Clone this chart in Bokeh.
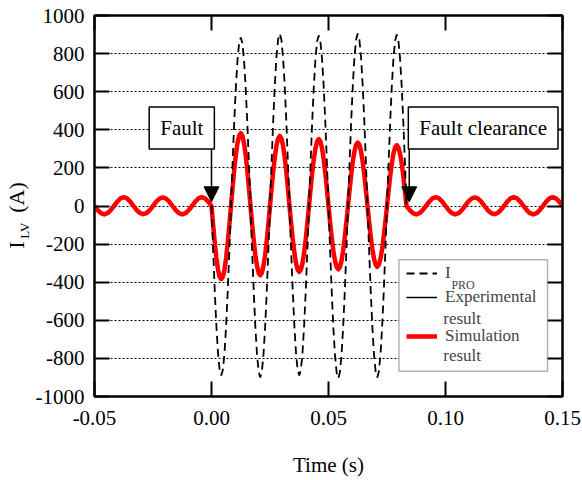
import numpy as np
from bokeh.plotting import figure
from bokeh.models import (Range1d, LinearAxis, FixedTicker, Label, Arrow, NormalHead,
                          BoxAnnotation, Legend, LegendItem)
from bokeh.embed import file_html
from bokeh.resources import INLINE

# ---------------- data ----------------
# sampling grids: pre-fault / post-fault every 1/720 s, fault period every 1/1440 s
t_pre = np.linspace(-0.05, 0.0, 37)
t_fault = np.linspace(0.0, 1.0 / 12.0, 121)
t_post = np.linspace(1.0 / 12.0, 0.15, 49)

# Simulation result (A)
sim_pre = [0, -22, -38, -44, -38, -22, 0, 23, 40, 46, 40, 23,
           0, -22, -37, -43, -37, -22, 0, 23, 39, 45, 39, 23,
           0, -22, -38, -44, -38, -22, 0, 23, 40, 46, 40, 23, 0]
sim_fault = [0, -99, -192, -272, -333, -371, -384, -371, -333, -272, -192, -99,
             0, 99, 191, 270, 331, 369, 382, 369, 331, 270, 191, 99,
             0, -94, -182, -257, -314, -351, -363, -351, -314, -257, -182, -94,
             0, 95, 184, 260, 319, 355, 368, 355, 319, 260, 184, 95,
             0, -90, -173, -245, -300, -334, -346, -334, -300, -245, -173, -90,
             0, 91, 176, 248, 304, 339, 351, 339, 304, 248, 176, 91,
             0, -86, -166, -235, -288, -321, -332, -321, -288, -235, -166, -86,
             0, 86, 167, 235, 288, 322, 333, 322, 288, 235, 167, 86,
             0, -83, -160, -226, -276, -308, -319, -308, -276, -226, -160, -83,
             0, 83, 160, 226, 276, 308, 319, 308, 276, 226, 160, 83,
             0]
sim_post = [0, -22, -38, -44, -38, -22, 0, 23, 40, 46, 40, 23,
            0, -22, -38, -44, -38, -22, 0, 23, 39, 45, 39, 23,
            0, -22, -37, -43, -37, -22, 0, 23, 40, 46, 40, 23,
            0, -22, -38, -44, -38, -22, 0, 23, 40, 46, 40, 23, 0]

# Experimental result (A)
exp_pre = [0, -21, -37, -43, -37, -21, 0, 22, 39, 45, 39, 22,
           0, -21, -37, -42, -37, -21, 0, 22, 38, 44, 38, 22,
           0, -21, -37, -43, -37, -21, 0, 22, 39, 45, 39, 22, 0]
exp_fault = [0, -98, -190, -269, -329, -367, -380, -367, -329, -269, -190, -98,
             0, 98, 189, 267, 327, 365, 378, 365, 327, 267, 189, 98,
             0, -93, -180, -255, -312, -348, -360, -348, -312, -255, -180, -93,
             0, 94, 182, 257, 315, 352, 364, 352, 315, 257, 182, 94,
             0, -89, -172, -243, -297, -331, -343, -331, -297, -243, -172, -89,
             0, 90, 174, 246, 301, 336, 348, 336, 301, 246, 174, 90,
             0, -85, -165, -233, -286, -319, -330, -319, -286, -233, -165, -85,
             0, 85, 165, 233, 286, 319, 330, 319, 286, 233, 165, 85,
             0, -82, -159, -224, -275, -306, -317, -306, -275, -224, -159, -82,
             0, 82, 159, 224, 275, 306, 317, 306, 275, 224, 159, 82,
             0]
exp_post = [0, -21, -37, -43, -37, -21, 0, 22, 39, 45, 39, 22,
            0, -21, -37, -43, -37, -21, 0, 22, 38, 44, 38, 22,
            0, -21, -37, -42, -37, -21, 0, 22, 39, 45, 39, 22,
            0, -21, -37, -43, -37, -21, 0, 22, 39, 45, 39, 22, 0]

# I_PRO during the fault (A)
pro_fault = [0, -230, -445, -629, -771, -860, -890, -860, -771, -629, -445, -230,
             0, 229, 443, 626, 766, 855, 885, 855, 766, 626, 443, 229,
             0, -233, -450, -636, -779, -869, -900, -869, -779, -636, -450, -233,
             0, 234, 453, 640, 784, 874, 905, 874, 784, 640, 453, 234,
             0, -230, -445, -629, -771, -860, -890, -860, -771, -629, -445, -230,
             0, 232, 448, 633, 775, 865, 895, 865, 775, 633, 448, 232,
             0, -234, -453, -640, -784, -874, -905, -874, -784, -640, -453, -234,
             0, 234, 453, 640, 784, 874, 905, 874, 784, 640, 453, 234,
             0, -233, -450, -636, -779, -869, -900, -869, -779, -636, -450, -233,
             0, 233, 450, 636, 779, 869, 900, 869, 779, 636, 450, 233,
             0]

fault_time = 0.0
clearance_time = 0.0845

x_ticks = [-0.05, 0.0, 0.05, 0.10, 0.15]
x_tick_labels = ["-0.05", "0.00", "0.05", "0.10", "0.15"]
y_ticks = [-1000, -800, -600, -400, -200, 0, 200, 400, 600, 800, 1000]
y_tick_labels = ["-1000", "-800", "-600", "-400", "-200", "0", "200", "400", "600", "800", "1000"]

x_title = "Time (s)"
# y title "I_LV (A)": main letter, subscript, unit (placed along the y axis)
y_title_main, y_title_sub, y_title_unit = "I", "LV", "(A)"
y_title_main_pos, y_title_sub_pos, y_title_unit_pos = -205.0, -130.0, 45.0

FONT = "Liberation Serif"

# ---------------- figure ----------------
p = figure(frame_width=468, frame_height=381,
           min_border_left=94, min_border_right=20, min_border_top=15, min_border_bottom=84,
           x_range=Range1d(-0.05, 0.15), y_range=Range1d(-1000, 1000),
           output_backend="svg", toolbar_location=None,
           background_fill_color="white", border_fill_color="white")
p.outline_line_color = "black"
p.outline_line_width = 2

def style_axis(ax, ticks, labels=None):
    ax.ticker = FixedTicker(ticks=ticks)
    ax.axis_line_color = "black"
    ax.axis_line_width = 2
    ax.major_tick_line_color = "black"
    ax.major_tick_line_width = 2
    ax.major_tick_in = 15
    ax.major_tick_out = 0
    ax.minor_tick_line_color = None
    if labels is not None:
        ax.major_label_overrides = {t: s for t, s in zip(ticks, labels)}
        ax.major_label_text_font = FONT
        ax.major_label_text_font_size = "21px"
        ax.major_label_text_color = "black"
    else:
        # tick marks only: labels are not drawn
        ax.major_label_text_font_size = "1px"
        ax.major_label_text_color = None
        ax.major_label_standoff = 0

style_axis(p.xaxis[0], x_ticks, x_tick_labels)
p.xaxis[0].major_label_standoff = 14
p.xaxis[0].axis_label = x_title
p.xaxis[0].axis_label_text_font = FONT
p.xaxis[0].axis_label_text_font_size = "21px"
p.xaxis[0].axis_label_text_font_style = "normal"
p.xaxis[0].axis_label_text_color = "black"
p.xaxis[0].axis_label_standoff = 25

style_axis(p.yaxis[0], y_ticks, y_tick_labels)
p.yaxis[0].major_label_standoff = 10

top_axis = LinearAxis()
style_axis(top_axis, x_ticks)
p.add_layout(top_axis, "above")
right_axis = LinearAxis()
style_axis(right_axis, y_ticks)
p.add_layout(right_axis, "right")

def title_axis(texts, positions, size, standoff):
    ax = LinearAxis(ticker=FixedTicker(ticks=positions),
                    major_label_overrides={v: t for v, t in zip(positions, texts)},
                    axis_line_color=None, major_tick_line_color=None, minor_tick_line_color=None,
                    major_tick_in=0, major_tick_out=0,
                    major_label_orientation="vertical", major_label_standoff=standoff,
                    major_label_text_font=FONT, major_label_text_font_size=size,
                    major_label_text_color="black")
    p.add_layout(ax, "left")
    return ax

title_axis([y_title_sub], [y_title_sub_pos], "13px", 0)
title_axis([y_title_main, y_title_unit], [y_title_main_pos, y_title_unit_pos], "22px", -15)

p.xgrid.visible = False
p.ygrid.ticker = FixedTicker(ticks=y_ticks)
p.ygrid.grid_line_color = "black"
p.ygrid.grid_line_width = 1
p.ygrid.grid_line_dash = "2 2"

# ---------------- lines ----------------
t_all = np.concatenate([t_pre[:-1], t_fault[:-1], t_post])
sim_all = sim_pre[:-1] + sim_fault[:-1] + sim_post
exp_all = exp_pre[:-1] + exp_fault[:-1] + exp_post

r_exp = p.line(t_all, exp_all, line_color="black", line_width=1.5)
r_sim = p.line(t_all, sim_all, line_color="#ff0000", line_width=4.5, line_join="round")
r_pro = p.line(t_fault, pro_fault, line_color="black", line_width=1.8, line_dash="8 5")

# ---------------- annotations ----------------
for xt in (fault_time, clearance_time):
    p.add_layout(Arrow(end=NormalHead(size=15, fill_color="black", line_color="black", line_width=1),
                       x_start=xt, y_start=310, x_end=xt, y_end=22,
                       line_color="black", line_width=1.5))

for lx, txt in ((-0.0127, "Fault"), (0.1161, "Fault clearance")):
    p.add_layout(Label(x=lx, y=410, text=txt, text_align="center", text_baseline="middle",
                       text_font=FONT, text_font_size="21px", text_color="black",
                       background_fill_color="white", border_line_color="black", border_line_width=1.5,
                       padding=(11, 9)))

# legend frame
p.add_layout(BoxAnnotation(left=0.0801, right=0.1436, top=-282, bottom=-867,
                           fill_color="white", fill_alpha=1.0, line_color="black", line_width=1.5))

leg1 = Legend(items=[LegendItem(label="I", renderers=[r_pro]),
                     LegendItem(label="Experimental", renderers=[r_exp])],
              location=(312, 87), padding=0, margin=0, spacing=0,
              label_height=24, glyph_height=24, glyph_width=31, label_standoff=8,
              label_text_font=FONT, label_text_font_size="17px",
              border_line_alpha=0, background_fill_alpha=0)
leg2 = Legend(items=[LegendItem(label="Simulation", renderers=[r_sim])],
              location=(312, 48), padding=0, margin=0, spacing=0,
              label_height=24, glyph_height=24, glyph_width=31, label_standoff=8,
              label_text_font=FONT, label_text_font_size="17px",
              border_line_alpha=0, background_fill_alpha=0)
p.add_layout(leg1, "center")
p.add_layout(leg2, "center")

p.add_layout(Label(x=0.10254, y=-415, text="PRO", text_font=FONT, text_font_size="12px",
                   text_baseline="alphabetic", text_align="left"))
p.add_layout(Label(x=0.09904, y=-590, text="result", text_font=FONT, text_font_size="17px",
                   text_baseline="middle", text_align="left"))
p.add_layout(Label(x=0.09904, y=-787, text="result", text_font=FONT, text_font_size="17px",
                   text_baseline="middle", text_align="left"))

open("out.html", "w").write(file_html(p, INLINE))
